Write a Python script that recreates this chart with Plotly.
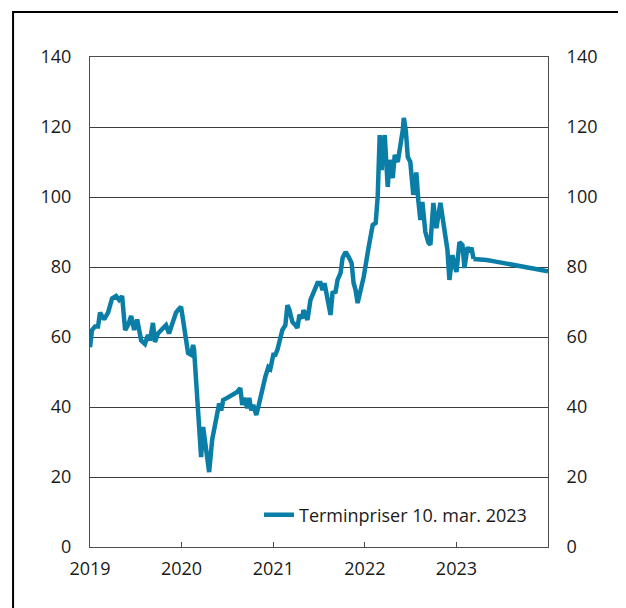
import plotly.graph_objects as go

# Historisk oljepris (USD per fat), ukesdata
hist_dates = [
    "2019-01-01", "2019-01-09", "2019-01-21", "2019-02-02", "2019-02-10", "2019-02-26",
    "2019-03-14", "2019-03-30", "2019-04-15", "2019-04-27", "2019-05-09", "2019-05-21",
    "2019-06-02", "2019-06-14", "2019-06-26", "2019-07-08", "2019-07-24", "2019-08-08",
    "2019-08-20", "2019-08-28", "2019-09-09", "2019-09-17", "2019-09-29", "2019-10-15",
    "2019-10-31", "2019-11-12", "2019-11-24", "2019-12-10", "2019-12-18", "2019-12-30",
    "2020-01-07", "2020-01-19", "2020-01-27", "2020-02-08", "2020-02-16", "2020-02-20",
    "2020-03-03", "2020-03-11", "2020-03-19", "2020-03-27", "2020-04-04", "2020-04-12",
    "2020-04-20", "2020-05-02", "2020-05-22", "2020-05-30", "2020-06-07", "2020-06-15",
    "2020-07-01", "2020-07-21", "2020-08-10", "2020-08-22", "2020-08-30", "2020-09-07",
    "2020-09-19", "2020-09-27", "2020-10-05", "2020-10-13", "2020-10-25", "2020-11-02",
    "2020-11-18", "2020-11-30", "2020-12-12", "2020-12-20", "2021-01-01", "2021-01-09",
    "2021-01-17", "2021-01-29", "2021-02-06", "2021-02-18", "2021-02-26", "2021-03-06",
    "2021-03-18", "2021-03-30", "2021-04-07", "2021-04-15", "2021-04-27", "2021-05-01",
    "2021-05-17", "2021-05-29", "2021-06-10", "2021-06-26", "2021-07-08", "2021-07-16",
    "2021-07-24", "2021-08-05", "2021-08-17", "2021-08-25", "2021-09-06", "2021-09-14",
    "2021-09-26", "2021-10-04", "2021-10-16", "2021-10-28", "2021-11-09", "2021-11-17",
    "2021-11-25", "2021-12-03", "2021-12-15", "2021-12-27", "2022-01-16", "2022-02-01",
    "2022-02-13", "2022-02-21", "2022-03-01", "2022-03-09", "2022-03-13", "2022-03-21",
    "2022-04-02", "2022-04-10", "2022-04-22", "2022-04-30", "2022-05-12", "2022-05-20",
    "2022-06-01", "2022-06-05", "2022-06-13", "2022-06-21", "2022-07-01", "2022-07-13",
    "2022-07-25", "2022-08-02", "2022-08-10", "2022-08-18", "2022-08-30", "2022-09-11",
    "2022-09-19", "2022-10-01", "2022-10-13", "2022-10-29", "2022-11-10", "2022-11-26",
    "2022-12-04", "2022-12-16", "2022-12-24", "2023-01-01", "2023-01-13", "2023-01-25",
    "2023-02-02", "2023-02-14", "2023-02-22", "2023-03-02", "2023-03-10",
]
hist_values = [
    57.1, 62.0, 63.0, 63.0, 67.0, 65.0,
    67.0, 71.0, 71.7, 70.6, 71.7, 62.0,
    63.4, 66.0, 62.0, 65.0, 59.0, 58.0,
    60.6, 59.0, 64.0, 58.6, 61.0, 62.0,
    63.4, 61.0, 64.0, 67.0, 67.7, 68.6,
    64.9, 60.0, 55.4, 54.9, 57.7, 56.3,
    44.9, 33.4, 25.7, 34.3, 30.6, 24.9,
    21.4, 30.6, 37.0, 41.0, 39.0, 42.0,
    42.6, 43.4, 44.3, 45.4, 40.6, 42.6,
    39.7, 42.6, 39.0, 40.6, 37.7, 40.0,
    45.7, 48.6, 51.4, 50.9, 54.9, 54.9,
    56.3, 60.0, 62.0, 63.4, 69.1, 67.7,
    64.3, 63.4, 62.6, 66.3, 65.4, 67.7,
    64.9, 70.6, 72.6, 75.4, 75.4, 73.4,
    75.4, 70.6, 66.3, 72.6, 72.9, 76.3,
    78.3, 82.6, 84.3, 82.9, 81.1, 75.4,
    73.4, 69.7, 73.4, 77.1, 85.7, 92.0,
    92.6, 100.0, 117.7, 107.7, 114.3, 117.7,
    102.9, 110.6, 105.4, 112.0, 110.0, 113.4,
    119.1, 122.6, 119.1, 111.4, 110.0, 100.6,
    107.0, 99.0, 93.4, 98.6, 90.0, 87.0,
    86.3, 98.3, 91.1, 98.3, 92.6, 84.9,
    76.3, 83.4, 80.6, 78.6, 87.1, 86.3,
    79.7, 85.7, 84.3, 85.5, 82.3,
]

# Terminpriser 10. mar. 2023
fwd_dates = [
    "2023-03-10", "2023-04-01", "2023-05-01", "2023-06-01", "2023-07-01", "2023-08-01",
    "2023-09-01", "2023-10-01", "2023-11-01", "2023-12-01", "2024-01-01",
]
fwd_values = [82.3, 82.2, 82.0, 81.6, 81.2, 80.8, 80.4, 80.0, 79.6, 79.2, 78.8]

y_ticks = [0, 20, 40, 60, 80, 100, 120, 140]
x_ticks = ["2019-01-01", "2020-01-01", "2021-01-01", "2022-01-01", "2023-01-01"]
x_labels = ["2019", "2020", "2021", "2022", "2023"]

LINE_COLOR = '#0a7ea6'
GRID_COLOR = '#3d3d3d'
FONT = 'Open Sans, sans-serif'

fig = go.Figure()
fig.add_trace(go.Scatter(
    x=hist_dates, y=hist_values, mode='lines',
    line=dict(color=LINE_COLOR, width=4.5), showlegend=False,
))
fig.add_trace(go.Scatter(
    x=fwd_dates, y=fwd_values, mode='lines',
    line=dict(color=LINE_COLOR, width=4.5),
    name='Terminpriser 10. mar. 2023',
))
# usynlig serie for hÃ¸yre akse
fig.add_trace(go.Scatter(
    x=fwd_dates, y=fwd_values, mode='lines', yaxis='y2',
    line=dict(color='rgba(0,0,0,0)', width=0), showlegend=False, hoverinfo='skip',
))

axis_common = dict(
    range=[0, 140], tickvals=y_ticks, ticks='', ticklabelstandoff=14,
    tickfont=dict(size=18, color='#1a1a1a'), zeroline=False,
)

# siden har 8px marg i body, derfor 618x600
fig.update_layout(
    width=618, height=600,
    paper_bgcolor='white', plot_bgcolor='white',
    font=dict(family=FONT, color='#1a1a1a'),
    margin=dict(l=82, r=78, t=49, b=61),
    xaxis=dict(
        type='date', range=["2019-01-01", "2024-01-01"],
        tickvals=x_ticks, ticktext=x_labels,
        ticks='inside', ticklen=5, tickcolor='#4d4d4d', tickwidth=1,
        tickfont=dict(size=18, color='#1a1a1a'), ticklabelstandoff=5,
        showgrid=False, showline=True, linecolor='#4d4d4d', linewidth=1,
        mirror=True,
    ),
    yaxis=dict(
        **axis_common, showgrid=True, gridcolor=GRID_COLOR, gridwidth=1,
        showline=True, linecolor='#4d4d4d', linewidth=1,
    ),
    yaxis2=dict(
        **axis_common, overlaying='y', side='right', showgrid=False,
        showline=True, linecolor='#4d4d4d', linewidth=1,
    ),
    legend=dict(
        x=0.965, y=0.065, xanchor='right', yanchor='middle',
        bgcolor='rgba(0,0,0,0)', font=dict(size=18, color='#1a1a1a'),
    ),
    shapes=[dict(
        type='rect', xref='paper', yref='paper',
        x0=-0.168, x1=1.3, y0=-0.4, y1=1.092,
        line=dict(color='black', width=2), fillcolor='rgba(0,0,0,0)',
    )],
)

fig.write_html("out.html")
